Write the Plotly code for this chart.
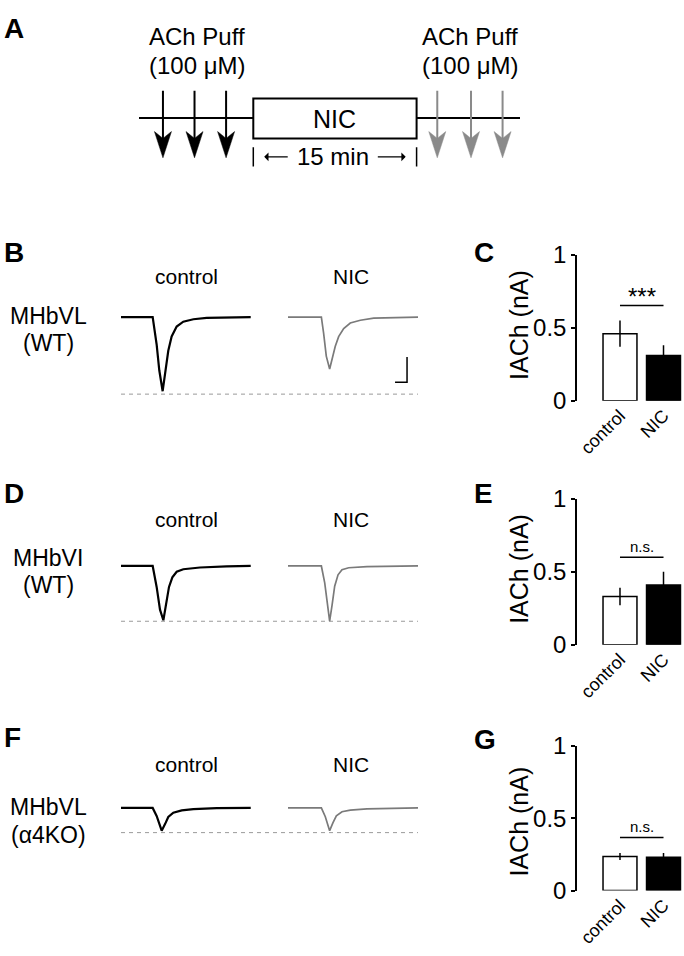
import plotly.graph_objects as go

W, H = 684, 956
FONT = "Liberation Sans, Arial, Helvetica, sans-serif"

# ---------------- data ----------------
# Panel A schematic (time in min)
timeline_min = [0, 35]
nic_window_min = [10.5, 25.5]
puff_before_min = [2.2, 5.1, 8.0]
puff_after_min = [27.4, 30.5, 33.4]

# Example current traces: time (s) and current (pA, relative to baseline)
b_ctrl_t = [0, 2.64, 2.97, 3.19, 3.47, 3.67, 3.94, 4.22, 4.64, 5.19, 6.03, 7.14, 9.36, 10.81]
b_ctrl_i = [0, 0, -108, -210, -293, -223, -133, -76, -37, -18, -8, -3, -1, 0]
b_nic_t = [0, 2.78, 2.97, 3.19, 3.47, 3.67, 3.94, 4.22, 4.64, 5.19, 6.03, 7.14, 9.36, 10.89]
b_nic_i = [0, 0, -64, -154, -205, -167, -115, -77, -45, -23, -12, -4, -2, 0]

d_ctrl_t = [0, 2.64, 2.97, 3.25, 3.53, 3.72, 4.0, 4.28, 4.64, 5.19, 6.58, 8.8, 10.81]
d_ctrl_i = [0, 0, -83, -173, -215, -161, -83, -45, -23, -13, -6, -2, 0]
d_nic_t = [0, 2.78, 3.06, 3.31, 3.47, 3.67, 3.89, 4.17, 4.5, 5.06, 6.58, 10.89]
d_nic_i = [0, 0, -67, -156, -218, -156, -80, -35, -15, -7, -3, 0]

f_ctrl_t = [0, 2.64, 2.97, 3.39, 3.67, 3.94, 4.36, 5.06, 6.03, 7.97, 10.81]
f_ctrl_i = [0, 0, -32, -90, -64, -36, -19, -10, -5, -1, 0]
f_nic_t = [0, 2.78, 3.11, 3.47, 3.75, 4.03, 4.5, 5.19, 6.58, 8.8, 10.89]
f_nic_i = [0, 0, -35, -90, -58, -31, -15, -9, -4, -1, 0]

scale_bar_s = 1
scale_bar_pA = 100

# Summary bars (nA): mean and SEM
conditions = ["control", "NIC"]
c_mean = [0.46, 0.31]
c_sem = [0.09, 0.07]
e_mean = [0.33, 0.41]
e_sem = [0.06, 0.09]
g_mean = [0.235, 0.23]
g_sem = [0.025, 0.03]
sig_labels = ["***", "n.s.", "n.s."]
y_ticks = [0, 0.5, 1]
y_ticktext = ["0", "0.5", "1"]

# ---------------- layout helpers ----------------
def px(x):
    return x / W

def py(y):
    return 1 - y / H

fig = go.Figure()
layout = dict(
    width=W, height=H, margin=dict(l=0, r=0, t=0, b=0),
    paper_bgcolor="white", plot_bgcolor="rgba(0,0,0,0)",
    showlegend=False, font=dict(family=FONT, color="black"),
)
annotations = []
shapes = []

def hidden_axis(**kw):
    d = dict(visible=False, showgrid=False, zeroline=False, fixedrange=True)
    d.update(kw)
    return d

# ---- Panel A (axis 1) ----
A_PX_PER_MIN = (520 - 139) / (timeline_min[1] - timeline_min[0])
layout["xaxis"] = hidden_axis(domain=[px(139), px(520)], range=timeline_min, anchor="y")
layout["yaxis"] = hidden_axis(domain=[py(170), py(70)], range=[170, 70], anchor="x")

fig.add_trace(go.Scatter(x=timeline_min, y=[107, 107], mode="lines",
                         line=dict(color="black", width=2), xaxis="x", yaxis="y", hoverinfo="skip"))

def puff_arrows(times, color):
    xs, ys = [], []
    for p in times:
        xs += [p, p, None]
        ys += [79, 132, None]
    fig.add_trace(go.Scatter(x=xs, y=ys, mode="lines", line=dict(color=color, width=2),
                             xaxis="x", yaxis="y", hoverinfo="skip"))
    hw = 8.5 / A_PX_PER_MIN
    for p in times:
        shapes.append(dict(type="path", xref="x", yref="y",
                           path=f"M {p},148 L {p-hw},121 L {p},128 L {p+hw},121 Z",
                           fillcolor=color, line=dict(color=color, width=0.5)))

puff_arrows(puff_before_min, "black")
puff_arrows(puff_after_min, "#8a8a8a")

shapes.append(dict(type="rect", xref="x", yref="y", x0=nic_window_min[0], x1=nic_window_min[1],
                   y0=87, y1=128, fillcolor="white", line=dict(color="black", width=2), layer="above"))
annotations.append(dict(x=sum(nic_window_min) / 2, y=108, xref="x", yref="y", text="NIC",
                        showarrow=False, font=dict(size=25), xanchor="center", yanchor="middle"))
# 15 min bracket
xs, ys = [], []
for p in nic_window_min:
    xs += [p, p, None]
    ys += [137, 157, None]
fig.add_trace(go.Scatter(x=xs, y=ys, mode="lines", line=dict(color="black", width=1.5),
                         xaxis="x", yaxis="y", hoverinfo="skip"))
t_mid = sum(nic_window_min) / 2
annotations.append(dict(x=t_mid - 0.2, y=147, xref="x", yref="y", text="15 min", showarrow=False,
                        font=dict(size=24), xanchor="center", yanchor="middle"))
for tip, tail in [(nic_window_min[0] + 1.0, nic_window_min[0] + 3.3),
                  (nic_window_min[1] - 1.0, nic_window_min[1] - 3.7)]:
    annotations.append(dict(x=tip, y=147, ax=tail, ay=147, xref="x", yref="y", axref="x", ayref="y",
                            text="", showarrow=True, arrowhead=1, arrowsize=1.2, arrowwidth=1.2,
                            arrowcolor="black"))
for cx in [197, 470]:
    annotations.append(dict(x=px(cx), y=py(23), xref="paper", yref="paper", text="ACh Puff",
                            showarrow=False, font=dict(size=24), xanchor="center", yanchor="middle"))
    annotations.append(dict(x=px(cx), y=py(53), xref="paper", yref="paper", text="(100 μM)",
                            showarrow=False, font=dict(size=24), xanchor="center", yanchor="middle"))

# ---- Trace panels (axes 2-7) ----
PX_PER_S = 12.0
PX_PER_PA = 26.0 / scale_bar_pA
rows = [
    dict(base=312, ctrl=(b_ctrl_t, b_ctrl_i), nic=(b_nic_t, b_nic_i),
         label=("MHbVL", "(WT)"), label_y=(311, 339), cond_y=270, dash_gap=3),
    dict(base=568, ctrl=(d_ctrl_t, d_ctrl_i), nic=(d_nic_t, d_nic_i),
         label=("MHbVI", "(WT)"), label_y=(560, 588), cond_y=520, dash_gap=1),
    dict(base=817, ctrl=(f_ctrl_t, f_ctrl_i), nic=(f_nic_t, f_nic_i),
         label=("MHbVL", "(α4KO)"), label_y=(816, 845), cond_y=772, dash_gap=2),
]
trace_x_range = [0, 130 / PX_PER_S]
ax_n = 2
for r in rows:
    b = r["base"]
    ydom = [py(b + 100), py(b - 20)]
    yrange = [-100 / PX_PER_PA, 20 / PX_PER_PA]
    for key, x0, x1, color, width in [("ctrl", 121, 251, "black", 2.2), ("nic", 288, 418, "#7a7a7a", 1.7)]:
        layout[f"xaxis{ax_n}"] = hidden_axis(domain=[px(x0), px(x1)], range=trace_x_range, anchor=f"y{ax_n}")
        layout[f"yaxis{ax_n}"] = hidden_axis(domain=ydom, range=yrange, anchor=f"x{ax_n}")
        t, i = r[key]
        fig.add_trace(go.Scatter(x=t, y=i, mode="lines", line=dict(color=color, width=width),
                                 xaxis=f"x{ax_n}", yaxis=f"y{ax_n}", hoverinfo="skip"))
        r[key + "_ax"] = ax_n
        ax_n += 1
    # dashed reference line at the control peak
    peak = min(r["ctrl"][1]) - r["dash_gap"] / PX_PER_PA
    shapes.append(dict(type="line", xref="paper", yref=f"y{r['ctrl_ax']}", x0=px(121), x1=px(418),
                       y0=peak, y1=peak, line=dict(color="#9a9a9a", width=1, dash="4px,4px"),
                       layer="below"))
    annotations.append(dict(x=px(186), y=py(r["cond_y"]), xref="paper", yref="paper", text="control",
                            showarrow=False, font=dict(size=21), xanchor="center", yanchor="middle"))
    annotations.append(dict(x=px(351), y=py(r["cond_y"]), xref="paper", yref="paper", text="NIC",
                            showarrow=False, font=dict(size=21), xanchor="center", yanchor="middle"))
    for txt, yy in zip(r["label"], r["label_y"]):
        annotations.append(dict(x=px(48), y=py(yy), xref="paper", yref="paper", text=txt,
                                showarrow=False, font=dict(size=23), xanchor="center", yanchor="middle"))

# scale bar in panel B (NIC axis)
sb_ax = rows[0]["nic_ax"]
sb_t0, sb_i0 = 8.92, -258
fig.add_trace(go.Scatter(x=[sb_t0, sb_t0 + scale_bar_s, sb_t0 + scale_bar_s],
                         y=[sb_i0, sb_i0, sb_i0 + scale_bar_pA], mode="lines",
                         line=dict(color="black", width=1.5), xaxis=f"x{sb_ax}", yaxis=f"y{sb_ax}",
                         hoverinfo="skip"))

# ---- Bar charts (axes 8-10) ----
bar_panels = [
    dict(mean=c_mean, sem=c_sem, top=248, bot=398, sig=sig_labels[0], sig_y=0.653, title_y=320),
    dict(mean=e_mean, sem=e_sem, top=499, bot=649, sig=sig_labels[1], sig_y=0.60, title_y=571),
    dict(mean=g_mean, sem=g_sem, top=753, bot=902, sig=sig_labels[2], sig_y=0.367, title_y=831),
]
for bp in bar_panels:
    n = ax_n
    layout[f"xaxis{n}"] = dict(domain=[px(577), 1], range=[-0.988, 1.471], anchor=f"y{n}",
                               type="category", showline=False, showgrid=False, zeroline=False,
                               ticks="", tickangle=-45, tickfont=dict(size=18), fixedrange=True)
    layout[f"yaxis{n}"] = dict(domain=[py(bp["bot"]), py(bp["top"])], range=[0, 1], anchor=f"x{n}",
                               showline=True, linecolor="black", linewidth=1.5, showgrid=False,
                               zeroline=False, ticks="outside", ticklen=4, tickwidth=1.5,
                               tickcolor="black", tickvals=y_ticks, ticktext=y_ticktext,
                               tickfont=dict(size=24), fixedrange=True)
    fig.add_trace(go.Bar(x=conditions, y=bp["mean"], width=0.78,
                         marker=dict(color=["white", "black"], line=dict(color="black", width=1.5)),
                         error_y=dict(type="data", array=bp["sem"], color="black", thickness=1.5, width=0),
                         xaxis=f"x{n}", yaxis=f"y{n}", hoverinfo="skip"))
    shapes.append(dict(type="line", xref=f"x{n}", yref=f"y{n}", x0=0, x1=1, y0=bp["sig_y"], y1=bp["sig_y"],
                       line=dict(color="black", width=1.5)))
    is_star = bp["sig"] == "***"
    annotations.append(dict(x=0.5, y=bp["sig_y"], xref=f"x{n}", yref=f"y{n}", text=bp["sig"],
                            showarrow=False, font=dict(size=24 if is_star else 15),
                            xanchor="center", yanchor="bottom", yshift=(-6 if is_star else 0)))
    annotations.append(dict(x=px(519), y=py(bp["title_y"]), xref="paper", yref="paper", text="IACh (nA)",
                            textangle=-90, showarrow=False, font=dict(size=25),
                            xanchor="center", yanchor="middle"))
    ax_n += 1

# ---- Panel letters ----
for letter, lx, ly in [("A", 2, 15), ("B", 2, 245), ("C", 472, 245), ("D", 2, 493),
                       ("E", 472, 493), ("F", 2, 745), ("G", 472, 747)]:
    annotations.append(dict(x=px(lx), y=py(ly), xref="paper", yref="paper", text=f"<b>{letter}</b>",
                            showarrow=False, font=dict(size=28), xanchor="left", yanchor="middle"))

layout["annotations"] = annotations
layout["shapes"] = shapes
fig.update_layout(**layout)
fig.write_html("out.html", config={"displayModeBar": False},
               post_script="document.body.style.margin='0';")
